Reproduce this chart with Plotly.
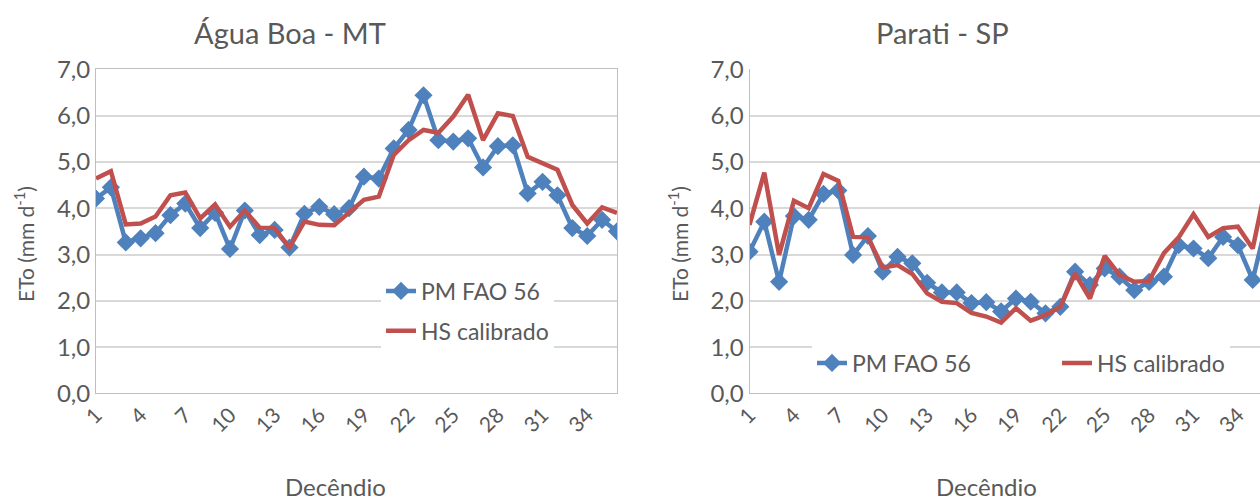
import plotly.graph_objects as go

# ---------------- data ----------------
decendio = list(range(1, 37))
tick_vals = list(range(1, 37, 3))
tick_text = [str(v) for v in tick_vals]

agua_pm = [4.21, 4.45, 3.26, 3.35, 3.46, 3.85, 4.10, 3.57, 3.90, 3.12, 3.95, 3.42,
           3.53, 3.15, 3.88, 4.03, 3.87, 4.00, 4.68, 4.64, 5.29, 5.69, 6.44, 5.47,
           5.44, 5.51, 4.88, 5.34, 5.36, 4.32, 4.57, 4.28, 3.57, 3.40, 3.75, 3.50]
agua_hs = [4.64, 4.80, 3.65, 3.67, 3.82, 4.28, 4.34, 3.78, 4.08, 3.60, 3.95, 3.58,
           3.57, 3.15, 3.71, 3.64, 3.63, 3.92, 4.18, 4.25, 5.15, 5.47, 5.69, 5.63,
           5.98, 6.45, 5.47, 6.05, 5.99, 5.11, 4.97, 4.83, 4.07, 3.67, 4.02, 3.90]

parati_pm = [3.06, 3.71, 2.41, 3.83, 3.75, 4.31, 4.38, 2.99, 3.40, 2.63, 2.95, 2.81,
             2.39, 2.18, 2.18, 1.95, 1.97, 1.77, 2.05, 1.98, 1.73, 1.87, 2.63, 2.34,
             2.70, 2.52, 2.23, 2.41, 2.52, 3.20, 3.13, 2.92, 3.38, 3.20, 2.45, 3.77]
parati_hs = [3.64, 4.77, 2.99, 4.16, 4.00, 4.74, 4.59, 3.38, 3.37, 2.72, 2.77, 2.58,
             2.16, 1.98, 1.95, 1.74, 1.66, 1.53, 1.84, 1.57, 1.69, 1.87, 2.59, 2.05,
             2.97, 2.56, 2.41, 2.43, 3.03, 3.37, 3.87, 3.38, 3.57, 3.60, 3.13, 4.65]

series_names = ["PM FAO 56", "HS calibrado"]
titles = ["Água Boa - MT", "Parati - SP"]

# ---------------- style ----------------
W, H = 1260, 501
BLUE = "#4F81BD"
RED = "#C0504D"
TXT = "#595959"
GRID = "#D9D9D9"
AX = "#BFBFBF"
FONT = "Lato"


def px(x):
    return x / W


def py(y):
    return (H - y) / H


fig = go.Figure()

# left chart
fig.add_trace(go.Scatter(x=decendio, y=agua_pm, name=series_names[0], mode="lines+markers",
                         line=dict(color=BLUE, width=4.5),
                         marker=dict(symbol="diamond", size=14, color=BLUE),
                         xaxis="x", yaxis="y", legend="legend", legendgroup="a1"))
fig.add_trace(go.Scatter(x=decendio, y=agua_hs, name=series_names[1], mode="lines",
                         line=dict(color=RED, width=4.5),
                         xaxis="x", yaxis="y", legend="legend", legendgroup="a2"))
# right chart
fig.add_trace(go.Scatter(x=decendio, y=parati_pm, name=series_names[0], mode="lines+markers",
                         line=dict(color=BLUE, width=4.5),
                         marker=dict(symbol="diamond", size=14, color=BLUE),
                         xaxis="x2", yaxis="y2", legend="legend2"))
fig.add_trace(go.Scatter(x=decendio, y=parati_hs, name=series_names[1], mode="lines",
                         line=dict(color=RED, width=4.5),
                         xaxis="x2", yaxis="y2", legend="legend3"))

ydom = [py(393.4), py(69.3)]
xcommon = dict(tickmode="array", tickvals=tick_vals, ticktext=tick_text, tickangle=-45,
               showgrid=False, zeroline=False, showline=True, linecolor=AX, linewidth=1,
               ticks="", automargin=False, tickfont=dict(family=FONT, size=21, color=TXT))
ycommon = dict(range=[0, 7], dtick=1, tickformat=".1f", showgrid=True, gridcolor=GRID,
               gridwidth=1.5, zeroline=False, showline=True, linecolor=AX, linewidth=1,
               ticks="", automargin=False, tickfont=dict(family=FONT, size=24, color=TXT),
               domain=ydom)

legfont = dict(family=FONT, size=23, color=TXT)
fig.update_layout(
    width=W, height=H, margin=dict(l=0, r=0, t=0, b=0, autoexpand=False),
    paper_bgcolor="white", plot_bgcolor="white", separators=",.",
    font=dict(family=FONT, color=TXT),
    xaxis=dict(domain=[px(96), px(617)], range=[1, 36], anchor="y", mirror=True, **xcommon),
    yaxis=dict(anchor="x", mirror=True, **ycommon),
    xaxis2=dict(domain=[px(749.5), 1.0], range=[1, 1 + (1260 - 749.5) / 14.8], anchor="y2", **xcommon),
    yaxis2=dict(anchor="x2", **ycommon),
    legend=dict(x=px(381), y=py(311), xanchor="left", yanchor="middle", bgcolor="white",
                font=legfont, traceorder="grouped", tracegroupgap=7),
    legend2=dict(x=px(812), y=py(363), xanchor="left", yanchor="middle",
                 bgcolor="white", font=legfont, orientation="h", entrywidth=205),
    legend3=dict(x=px(1057), y=py(363), xanchor="left", yanchor="middle",
                 bgcolor="white", font=legfont),
)

annots = [
    dict(text=titles[0], x=px(290), y=py(32), size=29),
    dict(text=titles[1], x=px(942), y=py(32), size=29),
    dict(text="Decêndio", x=px(335), y=py(486), size=24),
    dict(text="Decêndio", x=px(986), y=py(486), size=24),
]
for a in annots:
    fig.add_annotation(text=a["text"], x=a["x"], y=a["y"], xref="paper", yref="paper",
                       xanchor="center", yanchor="middle", showarrow=False,
                       font=dict(family=FONT, size=a["size"], color=TXT))
for xc in (24, 678):
    fig.add_annotation(text="ETo (mm d<sup>-1</sup>)", x=px(xc), y=py(244), xref="paper",
                       yref="paper", xanchor="center", yanchor="middle", showarrow=False,
                       textangle=-90, font=dict(family=FONT, size=21, color=TXT))

fig.write_html("out.html")
